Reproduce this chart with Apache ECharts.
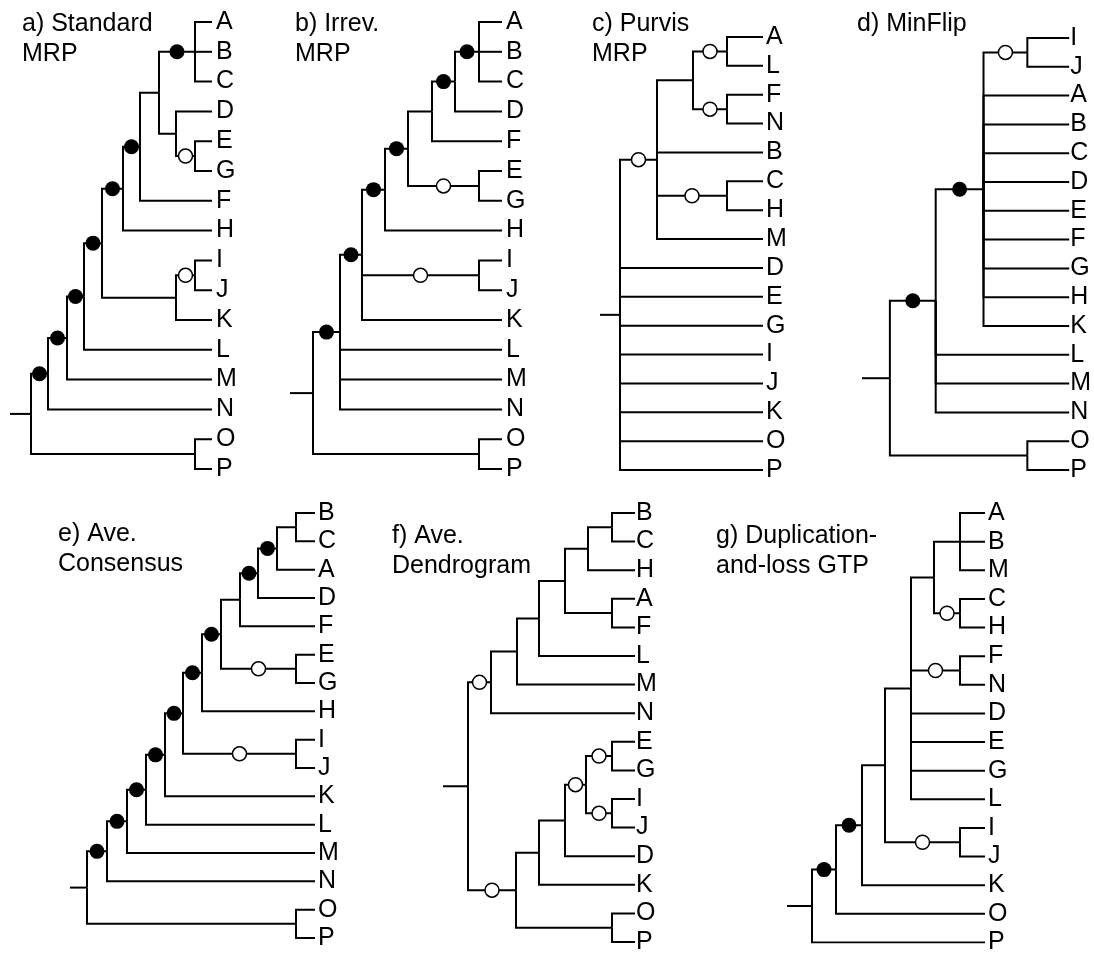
<!DOCTYPE html>
<html>
<head>
<meta charset="utf-8">
<script src="https://cdn.jsdelivr.net/npm/echarts@6/dist/echarts.min.js"></script>
<style>
  body { margin: 0; background: #fff; }
  #chart { width: 1094px; height: 955px; }
</style>
</head>
<body>
<div id="chart"></div>
<script>
// leaf order of every tree (top to bottom)
var leavesA = ['A','B','C','D','E','G','F','H','I','J','K','L','M','N','O','P'];
var leavesB = ['A','B','C','D','F','E','G','H','I','J','K','L','M','N','O','P'];
var leavesC = ['A','L','F','N','B','C','H','M','D','E','G','I','J','K','O','P'];
var leavesD = ['I','J','A','B','C','D','E','F','G','H','K','L','M','N','O','P'];
var leavesE = ['B','C','A','D','F','E','G','H','I','J','K','L','M','N','O','P'];
var leavesF = ['B','C','H','A','F','L','M','N','E','G','I','J','D','K','O','P'];
var leavesG = ['A','B','M','C','H','F','N','D','E','G','L','I','J','K','O','P'];

// trees: (children)depth[:f filled | :o open circle on the stem]
var treeA = '(((((((((A,B,C)185:f,(D,(E,G)185:o)166)149,F)130:f,H)113:f,((I,J)185:o,K)166)92:f,L)74:f,M)57:f,N)38:f,(O,P)185)21';
var treeB = '((((((((A,B,C)189:f,D)165:f,F)142,(E,G)189:o)118:f,H)95:f,(I,J)189:o,K)72:f,L,M,N)50:f,(O,P)189)23';
var treeC = '((((A,L)127:o,(F,N)127:o)93,B,(C,H)127:o,M)57:o,D,E,G,I,J,K,O,P)20';
var treeD = '((((I,J)166:o,A,B,C,D,E,F,G,H,K)122:f,L,M,N)74:f,(O,P)166)28';
var treeE = '((((((((((((B,C)226,A)207:f,D)188:f,F)170,(E,G)226:o)151:f,H)132:f,(I,J)226:o)113:f,K)95:f,L)76:f,M)57:f,N)37:f,(O,P)226)17';
var treeF = '(((((((B,C)169,H)145,(A,F)169)122,L)96,M)74,N)48:o,(((((E,G)169:o,(I,J)169:o)143:o,D)122,K)96,(O,P)169)73:o)25';
var treeG = '(((((((A,B,M)173,(C,H)173:o)147,(F,N)173:o,D,E,G,L)124,(I,J)173:o)98,K)75:f,O)49:f,P)25';

var titles = ['a) Standard\nMRP', 'b) Irrev.\nMRP', 'c) Purvis\nMRP', 'd) MinFlip',
              'e) Ave.\nConsensus', 'f) Ave.\nDendrogram', 'g) Duplication-\nand-loss GTP'];

var panels = [
  {tree: treeA, leaves: leavesA, left: 10,  right: 212,  top: 22,  bottom: 469, gap: 4, tx: 22,  ty: 9},
  {tree: treeB, leaves: leavesB, left: 290, right: 502,  top: 22,  bottom: 469, gap: 4, tx: 295, ty: 9},
  {tree: treeC, leaves: leavesC, left: 600, right: 763,  top: 37,  bottom: 470, gap: 3, tx: 592, ty: 9},
  {tree: treeD, leaves: leavesD, left: 862, right: 1070, top: 38,  bottom: 470, gap: 1, tx: 857, ty: 9},
  {tree: treeE, leaves: leavesE, left: 70,  right: 315,  top: 513, bottom: 938, gap: 3, tx: 58,  ty: 519},
  {tree: treeF, leaves: leavesF, left: 443, right: 635,  top: 513, bottom: 942, gap: 1, tx: 392, ty: 521},
  {tree: treeG, leaves: leavesG, left: 787, right: 985,  top: 513, bottom: 950, gap: 3, tx: 716, ty: 521}
];

function parseTree(str) {
  var i = 0;
  function node() {
    if (str[i] === '(') {
      i++;
      var kids = [node()];
      while (str[i] === ',') { i++; kids.push(node()); }
      i++;
      var m = /^(\d+(?:\.\d+)?)(?::([fo]))?/.exec(str.slice(i));
      i += m[0].length;
      return {kids: kids, depth: +m[1], mark: m[2] || ''};
    }
    var n = /^[A-Z]+/.exec(str.slice(i))[0];
    i += n.length;
    return {name: n};
  }
  return node();
}

function layout(root, leaves, leafDepth) {
  var paths = [], filled = [], open = [];
  function place(nd) {
    if (!nd.kids) { nd.x = leafDepth; nd.y = leaves.indexOf(nd.name); return; }
    nd.kids.forEach(place);
    nd.x = nd.depth;
    nd.y = (nd.kids[0].y + nd.kids[nd.kids.length - 1].y) / 2;
    nd.kids.forEach(function (k) {
      paths.push({coords: [[nd.x, nd.y], [nd.x, k.y], [k.x, k.y]]});
      if (k.mark) (k.mark === 'f' ? filled : open).push([(nd.x + k.x) / 2, k.y]);
    });
  }
  place(root);
  paths.push({coords: [[0, root.y], [root.x, root.y]]});
  return {paths: paths, filled: filled, open: open};
}

var font = 'Liberation Sans, Arial, Helvetica, sans-serif';
var grid = [], xAxis = [], yAxis = [], series = [], title = [];

panels.forEach(function (p, i) {
  var w = p.right - p.left;
  var t = layout(parseTree(p.tree), p.leaves, w);
  grid.push({left: p.left, top: p.top, width: w, height: p.bottom - p.top});
  xAxis.push({type: 'value', gridIndex: i, min: 0, max: w, show: false});
  yAxis.push({
    type: 'value', gridIndex: i, min: 0, max: 15, interval: 1, inverse: true,
    position: 'right',
    axisLine: {show: false}, axisTick: {show: false}, splitLine: {show: false},
    axisLabel: {
      margin: p.gap, fontSize: 25, color: '#000', fontFamily: font,
      formatter: function (v) { return p.leaves[v] || ''; }
    }
  });
  title.push({
    text: titles[i], left: p.tx, top: p.ty, padding: 0,
    textStyle: {fontSize: 25, lineHeight: 30, fontWeight: 'normal', color: '#000', fontFamily: font}
  });
  series.push({
    type: 'lines', coordinateSystem: 'cartesian2d', xAxisIndex: i, yAxisIndex: i,
    polyline: true, silent: true,
    lineStyle: {color: '#000', width: 2, opacity: 1},
    data: t.paths
  });
  series.push({
    type: 'scatter', xAxisIndex: i, yAxisIndex: i, symbolSize: 15, z: 5, silent: true,
    itemStyle: {color: '#000', opacity: 1},
    data: t.filled
  });
  series.push({
    type: 'scatter', xAxisIndex: i, yAxisIndex: i, symbolSize: 14, z: 5, silent: true,
    itemStyle: {color: '#fff', borderColor: '#000', borderWidth: 1.5, opacity: 1},
    data: t.open
  });
});

var chart = echarts.init(document.getElementById('chart'));
chart.setOption({
  animation: false,
  backgroundColor: '#fff',
  title: title,
  grid: grid,
  xAxis: xAxis,
  yAxis: yAxis,
  series: series
});
</script>
</body>
</html>
